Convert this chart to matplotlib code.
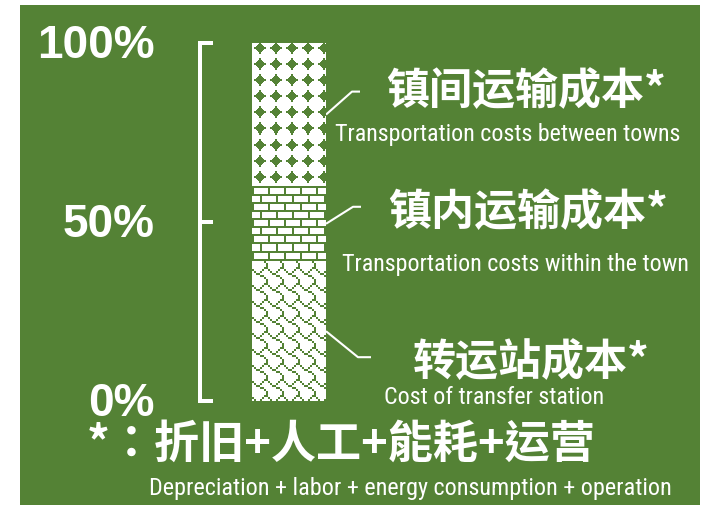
import numpy as np
import matplotlib
matplotlib.use("Agg")
import matplotlib.pyplot as plt
from matplotlib.colors import ListedColormap
from matplotlib.patches import Rectangle
from matplotlib.transforms import ScaledTranslation
from matplotlib import font_manager

# ---- data -------------------------------------------------------------
segment_cn = ["转运站成本*", "镇内运输成本*", "镇间运输成本*"]
segment_en = ["Cost of transfer station",
              "Transportation costs within the town",
              "Transportation costs between towns"]
shares = [39, 21, 40]            # % of total cost, bottom -> top
tick_values = [0, 50, 100]
tick_labels = ["0%", "50%", "100%"]
note_cn = "*：折旧+人工+能耗+运营"
note_en = "Depreciation + labor + energy consumption + operation"

# ---- style ------------------------------------------------------------
GREEN = "#548235"
W, H = 712, 506
PX = 0.72                         # points per pixel at 100 dpi
CJK = ["Noto Sans CJK SC", "DejaVu Sans"]
CJK_TC = ["Noto Sans CJK TC", "Noto Sans CJK SC", "DejaVu Sans"]
installed = {f.name for f in font_manager.fontManager.ttflist}
NARROW = next(n for n in ["Liberation Sans Narrow", "Roboto Condensed",
                          "Liberation Sans", "DejaVu Sans"] if n in installed)

# 16x16 fill bitmaps (1 = green), bottom -> top segment
SHINGLE = [
    "0000000000001111",
    "0000000000001111",
    "1100000000110000",
    "1100000000110000",
    "0011000011000000",
    "0011000011000000",
    "0000111100000000",
    "0000111100000000",
    "0000000011110000",
    "0000000011110000",
    "0000000000001100",
    "0000000000001100",
    "0000000000000011",
    "0000000000000011",
    "0000000000000011",
    "0000000000000011",
]
BRICK = [
    "1111111111111111",
    "1111111111111111",
    "1100000000000000",
    "1100000000000000",
    "1100000000000000",
    "1100000000000000",
    "1100000000000000",
    "1100000000000000",
    "1111111111111111",
    "1111111111111111",
    "0000000011000000",
    "0000000011000000",
    "0000000011000000",
    "0000000011000000",
    "0000000011000000",
    "0000000011000000",
]
DIAMOND = [
    "0000000110000000",
    "0000000110000000",
    "0000001111000000",
    "0000011111100000",
    "0000111111110000",
    "0011111111111100",
    "0011111111111100",
    "0000111111110000",
    "0000011111100000",
    "0000001111000000",
    "0000000110000000",
    "0000000110000000",
    "0000000000000000",
    "0000000000000000",
    "0000000000000000",
    "0000000000000000",
]
PATTERNS = [SHINGLE, BRICK, DIAMOND]


def bitmap(rows):
    return np.array([[int(c) for c in r] for r in rows])


def frac_box(x0, y0, x1, y1):
    """pixel box (top-left origin) -> figure fraction rect"""
    return [x0 / W, 1 - y1 / H, (x1 - x0) / W, (y1 - y0) / H]


fig = plt.figure(figsize=(W / 100, H / 100), dpi=100, facecolor="white")

# full-figure overlay in pixel units for the panel, leaders and labels
ov = fig.add_axes([0, 0, 1, 1], zorder=0)
ov.set_xlim(0, W)
ov.set_ylim(H, 0)
ov.set_axis_off()
ov.add_patch(Rectangle((20, 6), 680, 500, facecolor=GREEN, edgecolor="none"))

# stacked single bar
ax = fig.add_axes(frac_box(252, 44, 326, 402), zorder=1)
ax.set_facecolor("none")
bottoms = np.concatenate([[0], np.cumsum(shares)[:-1]])
bars = ax.bar([0] * len(shares), shares, bottom=bottoms, width=1.0,
              color="white", edgecolor="none", zorder=1)
cmap = ListedColormap(["white", GREEN])
ncol, nrow = 74, 358
for rect, pat in zip(bars, PATTERNS):
    tile = np.tile(bitmap(pat), (nrow // 16 + 1, ncol // 16 + 1))[:nrow, :ncol]
    im = ax.imshow(tile, cmap=cmap, vmin=0, vmax=1, interpolation="nearest",
                   extent=(-0.5, 0.5, 0, 100), aspect="auto", origin="upper",
                   zorder=2)
    im.set_clip_path(rect)
ax.set_xlim(-0.5, 0.5)
ax.set_ylim(0, 100)

# bracket scale on the left of the bar
for s in ["top", "right", "bottom"]:
    ax.spines[s].set_visible(False)
sp = ax.spines["left"]
sp.set_position(("outward", 52 * PX))
sp.set_color("white")
sp.set_linewidth(4 * PX)
sp.set_capstyle("projecting")
ax.set_xticks([])
ax.set_yticks(tick_values)
ax.set_yticklabels(tick_labels)
ax.tick_params(axis="y", direction="in", length=13 * PX, width=4 * PX,
               color="white", pad=45 * PX, labelcolor="white", labelsize=33)
nudge = ScaledTranslation(0, -2.5 / 100, fig.dpi_scale_trans)
for t in ax.get_yticklabels():
    t.set_fontfamily("Liberation Sans")
    t.set_fontweight("bold")
    t.set_verticalalignment("center")
    t.set_transform(t.get_transform() + nudge)

# leader lines from the middle of each segment
leader_dx = [32, 27, 26]
leader_dy = [26, -17, -23]
leader_run = [13, 8, 8]
cn_xy = [(531, 362), (528, 212), (526, 91)]
en_xy = [(494, 404), (515, 271), (508, 141)]
mids = bottoms + np.array(shares) / 2
for i, m in enumerate(mids):
    xd, yd = ax.transData.transform((0.5, m))
    x0, y0 = xd, H - yd
    x1, y1 = x0 + leader_dx[i], y0 + leader_dy[i]
    ov.plot([x0, x1, x1 + leader_run[i]], [y0, y1, y1], color="white",
            lw=1.5, solid_capstyle="butt")
    ov.text(*cn_xy[i], segment_cn[i], family=CJK, fontweight="bold",
            fontsize=31, color="white", ha="center", va="center")
    ov.text(*en_xy[i], segment_en[i], family=NARROW, fontsize=17.3,
            color="white", ha="center", va="baseline")

ov.text(341, 445, note_cn, family=CJK_TC, fontweight="bold", fontsize=32.5,
        color="white", ha="center", va="center")
ov.text(410, 495, note_en, family=NARROW, fontsize=17.4, color="white",
        ha="center", va="baseline")

fig.savefig("out.png", dpi=100, facecolor="white")
